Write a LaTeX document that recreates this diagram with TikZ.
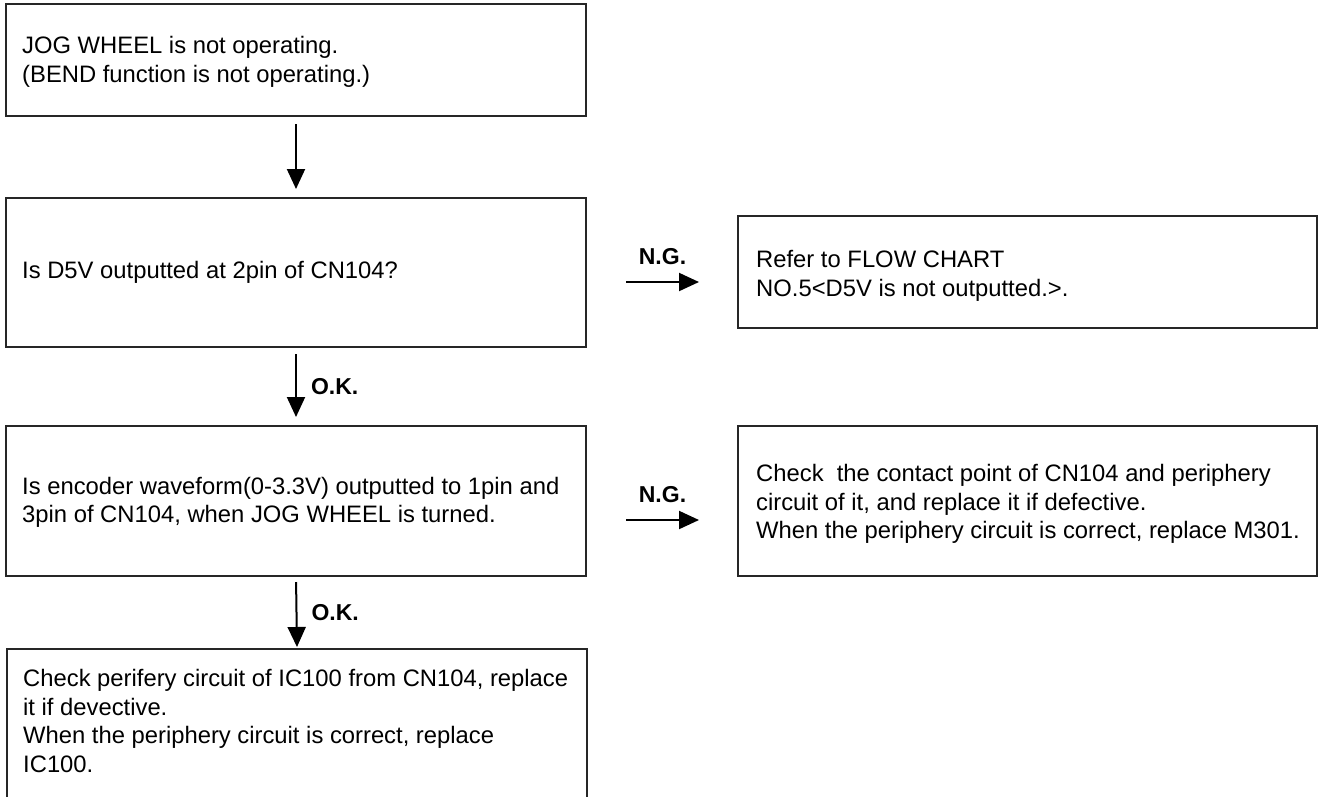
\documentclass[tikz,border=0pt]{standalone}
\usepackage{fontspec}
\setmainfont{Liberation Sans}
\usetikzlibrary{arrows.meta}
\begin{document}
\begin{tikzpicture}[x=1pt,y=-1pt,
  box/.style={draw=black!85, line width=2pt, inner sep=0pt, minimum width=580pt},
  rbox/.style={box, minimum width=579pt},
  txt/.style={inner sep=0pt, align=left, anchor=west, font=\fontsize{23.8}{28.5}\selectfont},
  lbl/.style={inner sep=0pt, font=\fontsize{23}{27}\selectfont\bfseries},
  arr/.style={line width=2pt, -{Triangle[length=20pt,width=18pt]}}]
\useasboundingbox (0,0) rectangle (1319,796);
\clip (0,0) rectangle (1319,796);
\fill[white] (0,0) rectangle (1319,796);
% boxes
\node[box, minimum height=112pt] (b1) at (296,60) {};
\node[box, minimum height=149pt] (b2) at (296,272.5) {};
\node[box, minimum height=150pt] (b3) at (296,501) {};
\node[box, minimum height=300pt, anchor=north west] (b4) at (6,648) {};
\node[rbox, minimum height=112pt] (r1) at (1027.5,272) {};
\node[rbox, minimum height=150pt] (r2) at (1027.5,501) {};
% texts
\node[txt] (t1) at ([shift={(17pt,-2pt)}]b1.west) {JOG WHEEL is not operating.\\(BEND function is not operating.)};
\node[txt] (t2) at ([xshift=17pt]b2.west) {Is D5V outputted at 2pin of CN104?};
\node[txt] (t3) at ([shift={(17pt,-1.5pt)}]b3.west) {Is encoder waveform(0-3.3V) outputted to 1pin and\\3pin of CN104, when JOG WHEEL is turned.};
\node[txt, anchor=north west] (t4) at ([shift={(17pt,-21.5pt)}]b4.north west) {Check perifery circuit of IC100 from CN104, replace\\it if devective.\\When the periphery circuit is correct, replace\\IC100.};
\node[txt] (tr1) at ([shift={(19pt,-4pt)}]r1.west) {Refer to FLOW CHART\\NO.5<D5V is not outputted.>.};
\node[txt] (tr2) at ([shift={(19pt,-3pt)}]r2.west) {Check\ \ the contact point of CN104 and periphery\\circuit of it, and replace it if defective.\\When the periphery circuit is correct, replace M301.};
% vertical arrows
\draw[arr, shorten <=7pt, shorten >=8pt] (b1.south) -- (b2.north);
\draw[arr, shorten <=6pt, shorten >=8pt] (b2.south) -- node[lbl, midway, anchor=west, xshift=14pt] (ok1) {O.K.} (b3.north);
\draw[arr, shorten <=5pt, shorten >=1pt] (b3.south) -- node[lbl, midway, anchor=west, xshift=14pt] (ok2) {O.K.} (b4.north);
% horizontal arrows
\draw[arr] ([shift={(39pt,-9.5pt)}]b2.east) -- node[lbl, midway, anchor=south, yshift=16pt] (ng1) {N.G.} ([shift={(-38pt,-10pt)}]r1.west);
\draw[arr] ([shift={(39pt,-19pt)}]b3.east) -- node[lbl, midway, anchor=south, yshift=16pt] (ng2) {N.G.} ([shift={(-38pt,-19pt)}]r2.west);
\end{tikzpicture}
\end{document}
